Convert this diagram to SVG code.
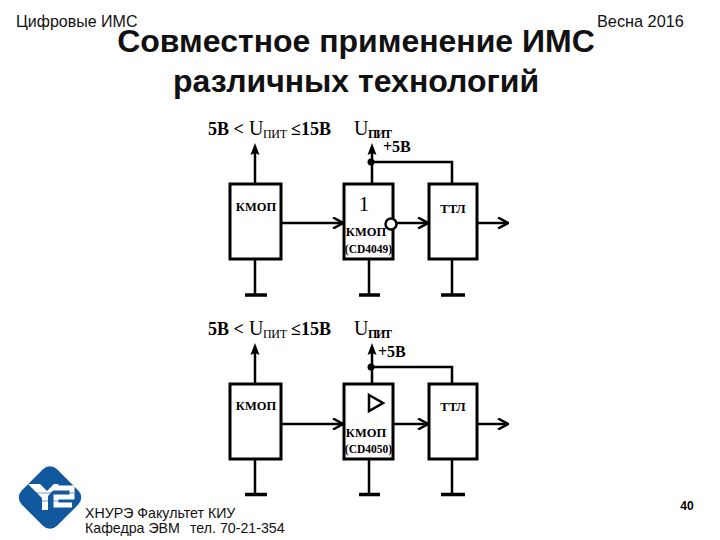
<svg xmlns="http://www.w3.org/2000/svg" width="720" height="540" viewBox="0 0 720 540">
<style>
.h{font-family:"Liberation Sans",Arial,sans-serif;fill:#111}
.s{font-family:"Liberation Serif","Times New Roman",serif;font-weight:bold;fill:#000}
.n{font-family:"Liberation Serif","Times New Roman",serif;fill:#000}
.b{fill:#fff;stroke:#000;stroke-width:3}
.c{fill:none;stroke:#000;stroke-width:2.5}
.g{stroke:#000;stroke-width:3.500}
</style>
<defs>
<marker id="a" viewBox="0 0 12 12" refX="11" refY="6" markerWidth="12" markerHeight="12" markerUnits="userSpaceOnUse" orient="auto"><path d="M1 0.500L11 6L1 11.500" fill="none" stroke="#000" stroke-width="2.500"/></marker>
<path id="up" d="M-4.500 10L0 -2L4.500 10L0 8Z" fill="#000"/>
</defs>
<rect width="720" height="540" fill="#fff"/>
<text class="h" x="16" y="27" font-size="16">Цифровые ИМС</text>
<text class="h" x="597" y="27" font-size="16.300">Весна 2016</text>
<g font-family="Liberation Sans,Arial,sans-serif" font-weight="bold" font-size="32" fill="#111" text-anchor="middle">
<text x="356" y="52">Совместное применение ИМС</text>
<text x="356" y="92">различных технологий</text>
</g>
<g id="connectors">
<g id="wires-top">
<path class="c" d="M255 184V150M372 184V150"/>
<path class="c" d="M281 223H343" marker-end="url(#a)"/>
<path class="c" d="M396 223H428" marker-end="url(#a)"/>
<path class="c" d="M477 223H508" marker-end="url(#a)"/>
<path class="c" d="M372 162H452V184"/>
<path class="c" d="M255 259V294M369 259V294M452 259V294"/>
<path class="g" d="M245 295H267M359 295H380M441 295H465"/>
<use href="#up" x="255" y="145"/><use href="#up" x="372" y="145"/>
<circle cx="371" cy="162" r="3.500"/>
</g>
<g id="wires-bottom">
<path class="c" d="M255 384V350M372 384V350"/>
<path class="c" d="M281 424H343" marker-end="url(#a)"/>
<path class="c" d="M393 424H428" marker-end="url(#a)"/>
<path class="c" d="M477 424H508" marker-end="url(#a)"/>
<path class="c" d="M372 367H452V384"/>
<path class="c" d="M255 459V494M369 459V494M452 459V494"/>
<path class="g" d="M245 494.500H267M359 494.500H380M441 494.500H465"/>
<use href="#up" x="255" y="345"/><use href="#up" x="372" y="345"/>
<circle cx="371" cy="367" r="3.500"/>
</g>
</g>
<g id="label-top">
<text class="s" x="208" y="135" font-size="18">5В &lt;</text>
<text class="n" x="249" y="135" font-size="20">U</text>
<text class="n" x="263" y="138" font-size="12" textLength="24">ПИТ</text>
<text class="s" x="291" y="135" font-size="18">≤15В</text>
<text class="n" x="354" y="135" font-size="20">U</text>
<text class="s" x="368" y="138" font-size="12" textLength="24">ПИТ</text>
<text class="s" x="383" y="152" font-size="16">+5В</text>
</g>
<g id="label-bottom">
<text class="s" x="208" y="335" font-size="18">5В &lt;</text>
<text class="n" x="249" y="335" font-size="20">U</text>
<text class="n" x="263" y="338" font-size="12" textLength="24">ПИТ</text>
<text class="s" x="291" y="335" font-size="18">≤15В</text>
<text class="n" x="354" y="335" font-size="20">U</text>
<text class="s" x="368" y="338" font-size="12" textLength="24">ПИТ</text>
<text class="s" x="378" y="357" font-size="16">+5В</text>
</g>
<g id="kmop1"><rect class="b" x="230" y="184" width="51" height="75"/><text class="s" x="256" y="211" font-size="12.500" text-anchor="middle">КМОП</text></g>
<g id="cd4049"><rect class="b" x="344" y="184" width="49" height="75"/><text class="n" x="364" y="211" font-size="21" text-anchor="middle">1</text><text class="s" x="366" y="236" font-size="12.500" text-anchor="middle">КМОП</text><text class="s" x="368.500" y="253" font-size="11.500" text-anchor="middle">(CD4049)</text><circle cx="391" cy="224" r="5.500" fill="#fff" stroke="#000" stroke-width="2.500"/></g>
<g id="ttl1"><rect class="b" x="429" y="184" width="48" height="75"/><text class="s" x="453" y="213" font-size="12.500" text-anchor="middle">ТТЛ</text></g>
<g id="kmop2"><rect class="b" x="230" y="384" width="51" height="75"/><text class="s" x="256" y="410" font-size="12.500" text-anchor="middle">КМОП</text></g>
<g id="cd4050"><rect class="b" x="344" y="384" width="49" height="75"/><path d="M369 395L383 403L369 411Z" fill="none" stroke="#000" stroke-width="2.500"/><text class="s" x="366" y="437" font-size="12.500" text-anchor="middle">КМОП</text><text class="s" x="368.500" y="453" font-size="11.500" text-anchor="middle">(CD4050)</text></g>
<g id="ttl2"><rect class="b" x="429" y="384" width="48" height="75"/><text class="s" x="453" y="411" font-size="12.500" text-anchor="middle">ТТЛ</text></g>
<g id="logo">
<rect x="25" y="472.500" width="50" height="50" rx="10" transform="rotate(45 50 497.500)" fill="#12589f"/>
<path d="M28 484H40L47 491L54 484H59L48 496V510H42V498Z" fill="#fff"/>
<path d="M52 488H72V497H56V505H72" fill="none" stroke="#fff" stroke-width="5"/>
<path d="M26 493H74M24 501H76" stroke="#12589f" stroke-width="1" opacity=".6"/>
</g>
<text class="h" x="85" y="518" font-size="14.200">ХНУРЭ Факультет КИУ</text>
<text class="h" x="85" y="533" font-size="14.200">Кафедра ЭВМ</text>
<text class="h" x="190" y="533" font-size="14.200">тел. 70-21-354</text>
<text x="687" y="510" font-size="12" font-weight="bold" font-family="Liberation Sans,Arial,sans-serif" text-anchor="middle">40</text>
</svg>
